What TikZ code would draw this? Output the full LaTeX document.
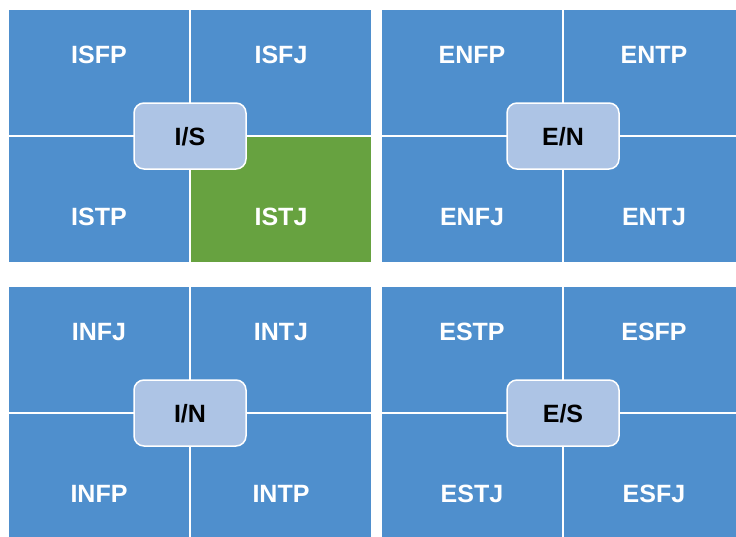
\documentclass[tikz,border=0pt]{standalone}
\usepackage{fontspec}
\setmainfont{Liberation Sans}
\definecolor{qblue}{HTML}{4F8FCD}
\definecolor{qgreen}{HTML}{67A240}
\definecolor{qlight}{HTML}{ADC4E5}
\tikzset{
  quad/.style={draw=white, line width=2pt, fill=qblue, inner sep=0pt, minimum width=182pt, minimum height=127pt},
  quadsel/.style={quad, fill=qgreen},
  qlabel/.style={text=white, font=\fontsize{25}{30}\selectfont\bfseries, inner sep=0pt, text height=18pt, text depth=0pt},
  hub/.style={draw=white, line width=1.5pt, fill=qlight, rounded corners=10pt, minimum width=112pt, minimum height=66pt, inner sep=0pt, text height=18pt, text depth=0pt, font=\fontsize{25}{30}\selectfont\bfseries, text=black}
}
\begin{document}
\begin{tikzpicture}[x=1pt,y=-1pt]
\useasboundingbox (0,0) rectangle (736,536);
\clip (0,0) rectangle (736,536);
% top-left block
\node[quad] (q11) at (99,72) {};
\node[quad] (q12) at (281,72) {};
\node[quad] (q13) at (99,199) {};
\node[quadsel] (q14) at (281,199) {};
% top-right block
\node[quad] (q21) at (472,72) {};
\node[quad] (q22) at (654,72) {};
\node[quad] (q23) at (472,199) {};
\node[quad] (q24) at (654,199) {};
% bottom-left block
\node[quad] (q31) at (99,349.5) {};
\node[quad] (q32) at (281,349.5) {};
\node[quad] (q33) at (99,476.5) {};
\node[quad] (q34) at (281,476.5) {};
% bottom-right block
\node[quad] (q41) at (472,349.5) {};
\node[quad] (q42) at (654,349.5) {};
\node[quad] (q43) at (472,476.5) {};
\node[quad] (q44) at (654,476.5) {};
% labels
\node[qlabel] (t11) at (99,54) {ISFP};
\node[qlabel] (t12) at (281,54) {ISFJ};
\node[qlabel] (t13) at (99,216) {ISTP};
\node[qlabel] (t14) at (281,216) {ISTJ};
\node[qlabel] (t21) at (472,54) {ENFP};
\node[qlabel] (t22) at (654,54) {ENTP};
\node[qlabel] (t23) at (472,216) {ENFJ};
\node[qlabel] (t24) at (654,216) {ENTJ};
\node[qlabel] (t31) at (99,331) {INFJ};
\node[qlabel] (t32) at (281,331) {INTJ};
\node[qlabel] (t33) at (99,493) {INFP};
\node[qlabel] (t34) at (281,493) {INTP};
\node[qlabel] (t41) at (472,331) {ESTP};
\node[qlabel] (t42) at (654,331) {ESFP};
\node[qlabel] (t43) at (472,493) {ESTJ};
\node[qlabel] (t44) at (654,493) {ESFJ};
% hubs
\node[hub] (h1) at (190,136) {I/S};
\node[hub] (h2) at (563,136) {E/N};
\node[hub] (h3) at (190,413) {I/N};
\node[hub] (h4) at (563,413) {E/S};
\end{tikzpicture}
\end{document}
